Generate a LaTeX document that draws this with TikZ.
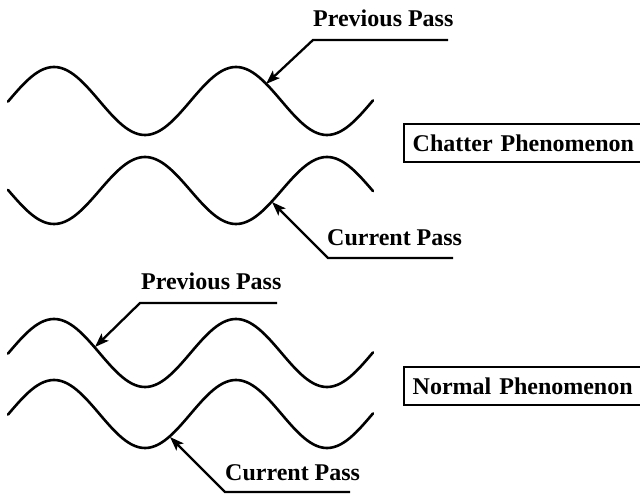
\documentclass[tikz,border=0pt]{standalone}
\usepackage{fontspec}
\setmainfont{Liberation Serif}
\usetikzlibrary{arrows.meta}
\tikzset{
  wave/.style={line width=2.6pt, line join=round, line cap=round},
  leader/.style={line width=2.3pt, -{Stealth[length=14pt,width=10pt,inset=3pt]}},
  lbl/.style={anchor=base west, inner sep=0pt, font=\bfseries\fontsize{24}{24}\selectfont},
  phbox/.style={draw, line width=2pt, anchor=west, minimum height=38pt, text width=232pt, align=left, inner xsep=9pt, inner ysep=0pt, font=\bfseries\fontsize{24}{24}\selectfont}
}
\begin{document}
\begin{tikzpicture}[x=1pt,y=-1pt]
\useasboundingbox (0,0) rectangle (640,494);
% waves
\draw[wave] plot[domain=8:373,samples=150,smooth] (\x,{101-34*cos((\x-54)*1.978)});
\draw[wave] plot[domain=8:373,samples=150,smooth] (\x,{190.5+33.5*cos((\x-54)*1.978)});
\draw[wave] plot[domain=8:373,samples=150,smooth] (\x,{353-34*cos((\x-54)*1.978)});
\draw[wave] plot[domain=8:373,samples=150,smooth] (\x,{414-34*cos((\x-54)*1.978)});
% boxes
\node[phbox] (chat) at (402.7,143) {Chatter Phenomenon};
\node[phbox] (norm) at (402.7,386) {Normal Phenomenon};
% labels
\node[lbl] (pp1) at (313,27) {Previous Pass};
\node[lbl] (cp1) at (327,246) {Current Pass};
\node[lbl] (pp2) at (141,290) {Previous Pass};
\node[lbl] (cp2) at (225,480) {Current Pass};
% leader coordinates
\coordinate (pp1e) at (313,40);  \coordinate (pp1r) at (448,40);  \coordinate (pp1t) at (266,84);
\coordinate (cp1e) at (328,258); \coordinate (cp1r) at (453,258); \coordinate (cp1t) at (272,202);
\coordinate (pp2e) at (140,303); \coordinate (pp2r) at (277,303); \coordinate (pp2t) at (95,347);
\coordinate (cp2e) at (225,492); \coordinate (cp2r) at (350,492); \coordinate (cp2t) at (170,437);
\draw[leader] (pp1r) -- (pp1e) -- (pp1t);
\draw[leader] (cp1r) -- (cp1e) -- (cp1t);
\draw[leader] (pp2r) -- (pp2e) -- (pp2t);
\draw[leader] (cp2r) -- (cp2e) -- (cp2t);
\end{tikzpicture}
\end{document}
